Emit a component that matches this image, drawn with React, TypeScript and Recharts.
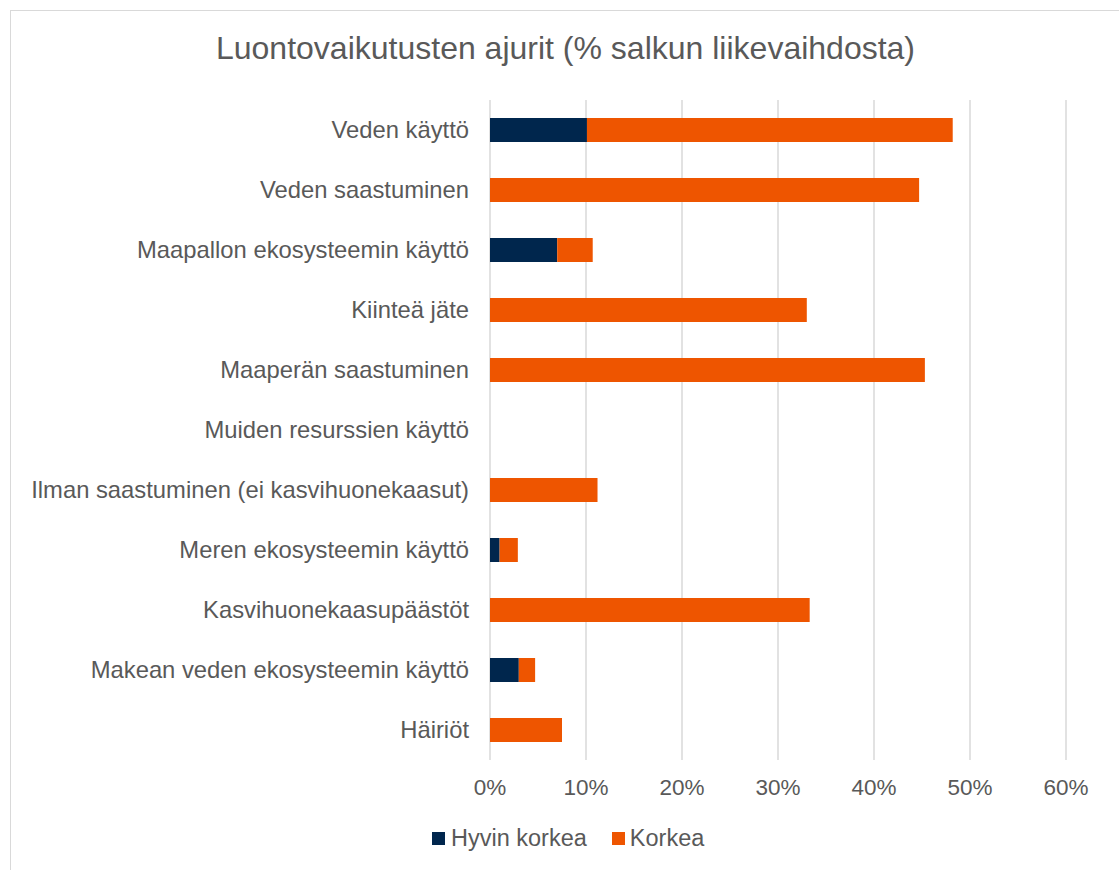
import { BarChart, Bar, XAxis, YAxis, CartesianGrid } from "recharts";

const categories = [
  "Veden käyttö",
  "Veden saastuminen",
  "Maapallon ekosysteemin käyttö",
  "Kiinteä jäte",
  "Maaperän saastuminen",
  "Muiden resurssien käyttö",
  "Ilman saastuminen (ei kasvihuonekaasut)",
  "Meren ekosysteemin käyttö",
  "Kasvihuonekaasupäästöt",
  "Makean veden ekosysteemin käyttö",
  "Häiriöt",
];

const hyvinKorkea = [10.1, 0, 7.0, 0, 0, 0, 0, 1.0, 0, 3.0, 0];
const korkea = [38.1, 44.7, 3.7, 33.0, 45.3, 0, 11.2, 1.9, 33.3, 1.7, 7.5];

const xTicks = [0, 10, 20, 30, 40, 50, 60];

const DARK = "#00264D";
const ORANGE = "#EE5500";
const TEXT = "#595959";
const FONT = "'Liberation Sans', Arial, sans-serif";

const data = categories.map((name, i) => ({
  name,
  hyvin: hyvinKorkea[i],
  korkea: korkea[i],
}));

export default function App() {
  return (
    <div
      style={{
        position: "absolute",
        left: 0,
        top: 0,
        width: 1119,
        height: 870,
        overflow: "hidden",
        background: "#fff",
        fontFamily: FONT,
      }}
    >
      <div
        style={{
          position: "absolute",
          left: 10,
          top: 10,
          width: 1120,
          height: 870,
          borderLeft: "1px solid #d9d9d9",
          borderTop: "1px solid #d9d9d9",
        }}
      />
      <div
        style={{
          position: "absolute",
          left: 0,
          top: 29,
          width: 1131,
          textAlign: "center",
          fontSize: 32,
          color: TEXT,
          lineHeight: "38px",
        }}
      >
        Luontovaikutusten ajurit (% salkun liikevaihdosta)
      </div>
      <div style={{ position: "absolute", left: 0, top: 0 }}>
        <BarChart
          width={1119}
          height={870}
          data={data}
          layout="vertical"
          margin={{ top: 100, right: 53, left: 10, bottom: 80 }}
        >
          <CartesianGrid
            horizontal={false}
            vertical={true}
            stroke="#d9d9d9"
            strokeWidth={1.5}
          />
          <XAxis
            type="number"
            domain={[0, 60]}
            ticks={xTicks}
            tickFormatter={(v: number) => `${v}%`}
            axisLine={false}
            tickLine={false}
            tickSize={0}
            tickMargin={19}
            height={30}
            tick={{ fontSize: 22.5, fill: TEXT, fontFamily: FONT }}
          />
          <YAxis
            type="category"
            dataKey="name"
            width={480}
            axisLine={false}
            tickLine={false}
            tickSize={0}
            tickMargin={21}
            interval={0}
            tick={{ fontSize: 23.8, fill: TEXT, fontFamily: FONT }}
          />
          <Bar
            dataKey="hyvin"
            stackId="a"
            fill={DARK}
            barSize={24}
            isAnimationActive={false}
          />
          <Bar
            dataKey="korkea"
            stackId="a"
            fill={ORANGE}
            barSize={24}
            isAnimationActive={false}
          />
        </BarChart>
      </div>
      {/* Legend */}
      <div
        style={{
          position: "absolute",
          left: 432,
          top: 824,
          display: "flex",
          alignItems: "center",
          fontSize: 23.5,
          color: TEXT,
          lineHeight: "28px",
        }}
      >
        <div style={{ width: 13, height: 13, background: DARK, marginRight: 6 }} />
        <span>Hyvin korkea</span>
        <div
          style={{
            width: 13,
            height: 13,
            background: ORANGE,
            marginLeft: 25,
            marginRight: 5,
          }}
        />
        <span>Korkea</span>
      </div>
    </div>
  );
}
